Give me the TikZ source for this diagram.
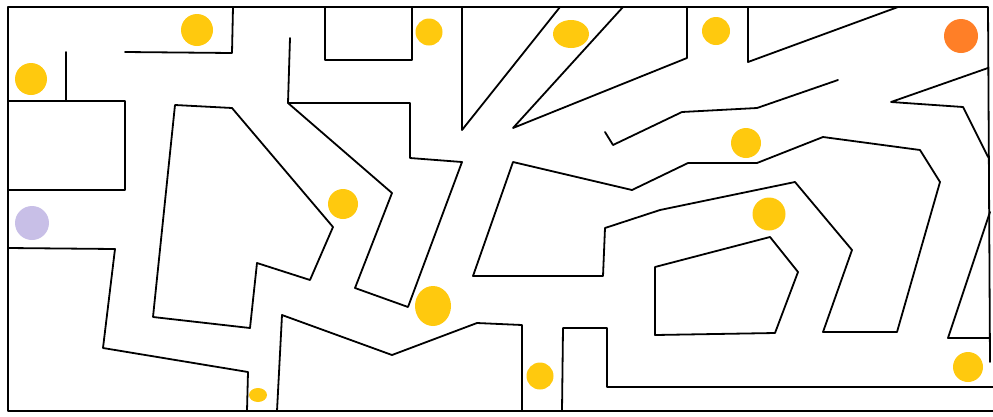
\documentclass[tikz,border=0pt]{standalone}
\usetikzlibrary{shapes.geometric}
\definecolor{gold}{HTML}{FFC90E}
\definecolor{orng}{HTML}{FF7F27}
\definecolor{lav}{HTML}{C8BFE7}
\begin{document}
\begin{tikzpicture}[x=1pt,y=-1pt,
  wall/.style={line width=1.8pt, line join=round, line cap=round},
  dot/.style={circle, fill=gold, inner sep=0pt, minimum size=#1},
  oval/.style={ellipse, fill=gold, inner sep=0pt}]
\useasboundingbox (0,0) rectangle (993,416);
% border
\draw[wall] (8,7) -- (988,7) -- (990,362);
\draw[wall] (8,7) -- (8,411) -- (993,411);
% walls
\draw[wall] (233,7) -- (232,53) -- (125,52);
\draw[wall] (66,52) -- (66,101);
\draw[wall] (8,101) -- (125,101) -- (125,190) -- (8,190);
\draw[wall] (8,248) -- (115,249) -- (103,348) -- (248,372) -- (247,411);
\draw[wall] (175,105) -- (232,108) -- (333,227) -- (310,280) -- (257,263) -- (250,328) -- (153,317) -- cycle;
\draw[wall] (325,7) -- (325,60) -- (412,60) -- (412,7);
\draw[wall] (290,38) -- (288,103) -- (392,193) -- (355,288) -- (408,307) -- (462,162) -- (410,158) -- (410,103) -- (288,103);
\draw[wall] (462,7) -- (462,130) -- (560,7);
\draw[wall] (623,7) -- (513,128) -- (687,58) -- (687,7);
\draw[wall] (748,7) -- (748,62) -- (898,7);
\draw[wall] (605,132) -- (613,145) -- (682,112) -- (757,108) -- (838,80);
\draw[wall] (473,276) -- (513,162) -- (632,190) -- (688,163) -- (757,163) -- (823,137) -- (920,150) -- (940,182) -- (897,332) -- (823,332) -- (852,250) -- (795,182) -- (660,210) -- (605,228) -- (603,276) -- cycle;
\draw[wall] (655,267) -- (770,237) -- (798,272) -- (775,333) -- (655,335) -- cycle;
\draw[wall] (988,68) -- (891,102) -- (963,107) -- (988,157);
\draw[wall] (990,212) -- (948,338) -- (990,338);
\draw[wall] (277,411) -- (282,315) -- (392,355) -- (477,323) -- (522,325) -- (522,411);
\draw[wall] (562,411) -- (563,328) -- (607,328) -- (607,387) -- (993,387);
% dots
\node[dot=32pt] (c1) at (197,30) {};
\node[dot=32pt] (c2) at (31,79) {};
\node[circle, fill=lav, inner sep=0pt, minimum size=34pt] (start) at (32,223) {};
\node[dot=30pt] (c3) at (343,204) {};
\node[dot=27pt] (c4) at (429,32) {};
\node[oval, minimum width=36pt, minimum height=28pt] (c5) at (571,34) {};
\node[dot=28pt] (c6) at (716,31) {};
\node[circle, fill=orng, inner sep=0pt, minimum size=34pt] (goal) at (961,36) {};
\node[dot=30pt] (c7) at (746,143) {};
\node[dot=33pt] (c8) at (769,214) {};
\node[oval, minimum width=36pt, minimum height=40pt] (c9) at (433,306) {};
\node[dot=27pt] (c10) at (540,376) {};
\node[oval, minimum width=18pt, minimum height=14pt] (c11) at (258,395) {};
\node[dot=30pt] (c12) at (968,367) {};
\end{tikzpicture}
\end{document}
